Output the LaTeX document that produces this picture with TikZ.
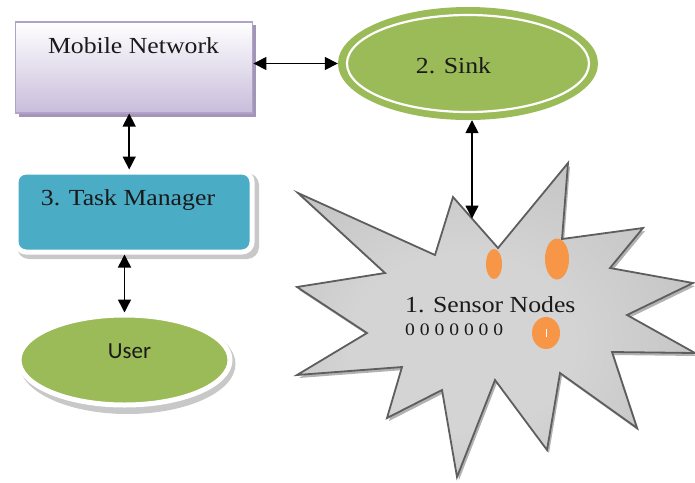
\documentclass[tikz,border=0pt]{standalone}
\usepackage{fontspec}
\setmainfont{Liberation Serif}
\newfontfamily\labelfont[FakeStretch=1.12]{Liberation Serif}
\newfontfamily\userfont{Carlito}
\usetikzlibrary{shadows,arrows.meta,shapes.geometric,calc}

\definecolor{mntop}{HTML}{FFFFFF}
\definecolor{mnbot}{HTML}{C8BDDB}
\definecolor{mnline}{HTML}{B0A2CB}
\definecolor{mnshade}{HTML}{A196B5}
\definecolor{leafgreen}{HTML}{9BBB59}
\definecolor{tmblue}{HTML}{4BACC6}
\definecolor{softshade}{HTML}{C8C8C8}
\definecolor{sensororange}{HTML}{F79646}
\definecolor{starline}{HTML}{5E5E5E}
\definecolor{starin}{HTML}{D4D4D4}
\definecolor{starmid}{HTML}{C4C4C4}
\definecolor{starout}{HTML}{8E8E8E}
\definecolor{inkc}{HTML}{1A1A1A}

% soft radial grey for the starburst, lightest a little left of and below its middle
\pgfdeclareradialshading{starshade}{\pgfpoint{-6bp}{-5bp}}{%
  color(0bp)=(starin); color(14bp)=(starin); color(30bp)=(starmid); color(50bp)=(starout)}

\tikzset{
  x=1pt, y=-1pt,
  lbl/.style={font=\labelfont\fontsize{23}{27}\selectfont, text=inkc, inner sep=0pt},
  zerolbl/.style={font=\labelfont\fontsize{17.5}{20}\selectfont, text=inkc, inner sep=0pt},
  userlbl/.style={font=\userfont\fontsize{23}{27}\selectfont, text=inkc, inner sep=0pt},
  biarrow/.style={{Triangle[length=13pt,width=13pt]}-{Triangle[length=13pt,width=13pt]}, line width=1.5pt, black},
  mnbox/.style={rectangle, top color=mntop, bottom color=mnbot, draw=mnline, line width=1.5pt,
                minimum width=237pt, minimum height=91pt, inner sep=0pt},
  tmbox/.style={rectangle, rounded corners=10pt, fill=tmblue, draw=white, line width=5pt,
                minimum width=236pt, minimum height=80pt, inner sep=0pt},
  greenoval/.style={ellipse, fill=leafgreen, inner sep=0pt},
  sensordot/.style={ellipse, fill=sensororange, inner sep=0pt},
}

\begin{document}
\begin{tikzpicture}
\useasboundingbox (0,0) rectangle (695,482);

% Mobile network box with its offset shadow
\fill[mnshade] (19,25) rectangle (256,117);
\node[mnbox] (mn) at (134.2,67.3) {};
\node[lbl, anchor=base] (mnlabel) at (133.5,53) {Mobile Network};

% Sink: green oval with a white inner ring
\node[greenoval, minimum width=260pt, minimum height=113pt] (sink) at (468,63.5) {};
\draw[white, line width=2.2pt] (sink.center) ellipse [x radius=121pt, y radius=48.5pt];
\node[lbl, anchor=base] (sinklabel) at (453.5,73) {2. Sink};

% Task manager box on a soft shadow
\fill[softshade, rounded corners=12pt] (17,173) rectangle (259,259);
\node[tmbox] (tm) at (134,212) {};
\node[lbl, anchor=base] (tmlabel) at (128,205) {3. Task Manager};

% User oval on a soft shadow
\fill[softshade] (127.5,364) ellipse [x radius=108pt, y radius=50pt];
\node[greenoval, draw=white, line width=5pt, minimum width=211pt, minimum height=90pt] (user) at (124.5,360) {};
\node[userlbl, anchor=base] (userlabel) at (129.5,358) {User};

% Sensor field: a starburst with a shadow, a grey shade and a dark rim
\fill[black!30] (300,196) -- (437,258) -- (455,200) -- (500,251) -- (570,166) -- (564,242)
  -- (645,231) -- (612,271) -- (695,286) -- (629,318) -- (697,356) -- (614,355)
  -- (639,431) -- (562,376) -- (549,453) -- (497,383) -- (459,480) -- (444,393)
  -- (389,421) -- (404,370) -- (299,378) -- (369,336) -- (299,290) -- (387,276)
  -- cycle;
\shade[shading=starshade]
  (298,193) -- (435,255) -- (453,197) -- (498,248) -- (568,163) -- (562,239)
  -- (643,228) -- (610,268) -- (693,283) -- (627,315) -- (695,353) -- (612,352)
  -- (637,428) -- (560,373) -- (547,450) -- (495,380) -- (457,477) -- (442,390)
  -- (387,418) -- (402,367) -- (297,375) -- (367,333) -- (297,287) -- (385,273)
  -- cycle;
\draw[starline, line width=1.8pt, line join=miter]
  (298,193) -- (435,255) -- (453,197) -- (498,248) -- (568,163) -- (562,239)
  -- (643,228) -- (610,268) -- (693,283) -- (627,315) -- (695,353) -- (612,352)
  -- (637,428) -- (560,373) -- (547,450) -- (495,380) -- (457,477) -- (442,390)
  -- (387,418) -- (402,367) -- (297,375) -- (367,333) -- (297,287) -- (385,273)
  -- cycle;
\coordinate (notch) at (472,218.5);

\node[sensordot, minimum width=16pt, minimum height=30pt] (s1) at (494,264) {};
\node[sensordot, minimum width=24pt, minimum height=41pt] (s2) at (557,259) {};
\node[sensordot, minimum width=28pt, minimum height=32pt] (s3) at (546,333) {};
\draw[white, line width=0.8pt] ($(s3.center)+(0,-4)$) -- ($(s3.center)+(0,4)$);

\node[lbl, anchor=base west] (snlabel) at (405,312) {1. Sensor Nodes};
\node[zerolbl, anchor=base west] (zlabel) at (405,335) {0 0 0 0 0 0 0};

% Connectors
\draw[biarrow] (mn.east |- sink.west) -- (sink.west);
\draw[biarrow] ([xshift=-5pt]mn.south) -- ([xshift=-5pt]mn.south |- tm.north);
\draw[biarrow] (user.north |- tm.south) -- (user.north);
\draw[biarrow] ([xshift=4pt]sink.south) -- (notch);
\end{tikzpicture}
\end{document}
